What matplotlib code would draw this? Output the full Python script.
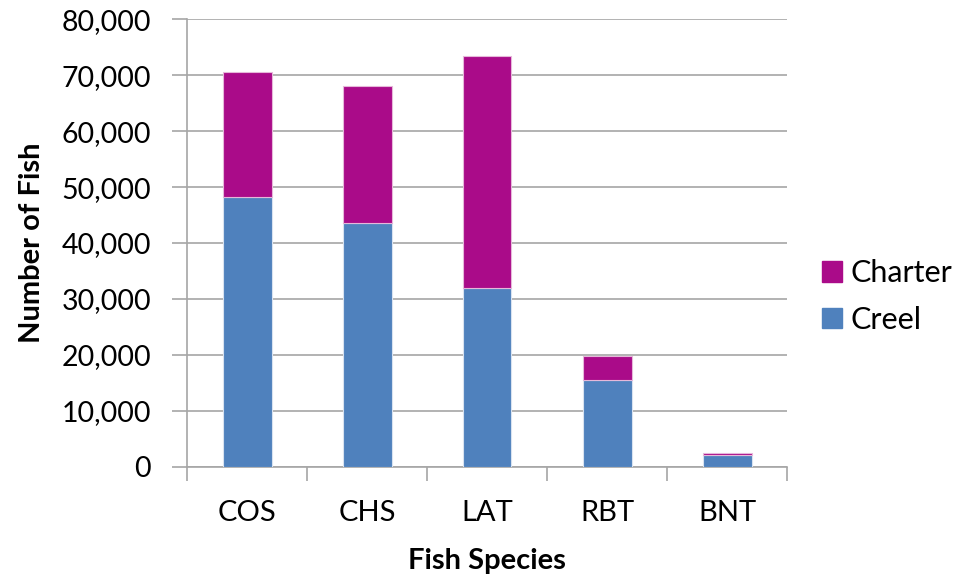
import numpy as np
import matplotlib
matplotlib.use("Agg")
from matplotlib import pyplot as plt
from matplotlib.ticker import FuncFormatter
from matplotlib.patches import Patch

species = ["COS", "CHS", "LAT", "RBT", "BNT"]
creel = [48200, 43500, 32000, 15600, 2100]
charter = [22400, 24500, 41400, 4300, 400]

plt.rcParams['font.family'] = ['Lato', 'DejaVu Sans']

fig = plt.figure(figsize=(9.6, 5.8), dpi=100)
ax = fig.add_axes([0.195, 0.195, 0.625, 0.772])

x = np.arange(len(species))
c_creel = '#4F81BD'
c_charter = '#AA0B89'
ax.bar(x, creel, width=0.405, color=c_creel, edgecolor='#D8E2F0', linewidth=0.8, zorder=3)
ax.bar(x, charter, width=0.405, bottom=creel, color=c_charter, edgecolor='#E6B8DA', linewidth=0.8, zorder=3)

ax.set_xlim(-0.5, len(species) - 0.5)
ax.set_ylim(0, 80000)
ax.set_yticks(np.arange(0, 80001, 10000))
ax.yaxis.set_major_formatter(FuncFormatter(lambda v, p: f"{int(v):,}"))
ax.grid(axis='y', color='#A6A6A6', linewidth=1.2, zorder=0)

ax.set_xticks(x)
ax.set_xticklabels(species)
ax.set_xticks(np.arange(-0.5, len(species)), minor=True)
ax.tick_params(axis='x', which='major', length=0, pad=24, labelsize=21)
ax.tick_params(axis='x', which='minor', length=10, width=1.2, color='#A6A6A6')
ax.tick_params(axis='y', length=11, width=1.2, color='#A6A6A6', labelsize=20.5, pad=15)

for s in ['top', 'right']:
    ax.spines[s].set_visible(False)
for s in ['left', 'bottom']:
    ax.spines[s].set_color('#A6A6A6')
    ax.spines[s].set_linewidth(1.2)

ax.set_xlabel("Fish Species", fontsize=21, fontweight='bold', va='center')
ax.set_ylabel("Number of Fish", fontsize=21, fontweight='bold', va='center')
ax.xaxis.set_label_coords(0.5, -0.21)
ax.yaxis.set_label_coords(-0.258, 0.5)

handles = [Patch(color=c_charter), Patch(color=c_creel)]
fig.legend(handles, ["Charter", "Creel"], loc='center left', bbox_to_anchor=(0.856, 0.489),
           frameon=False, fontsize=22, handlelength=0.65, handleheight=0.65,
           handletextpad=0.3, labelspacing=0.6, borderpad=0, borderaxespad=0)

fig.savefig("out.png", dpi=100)
